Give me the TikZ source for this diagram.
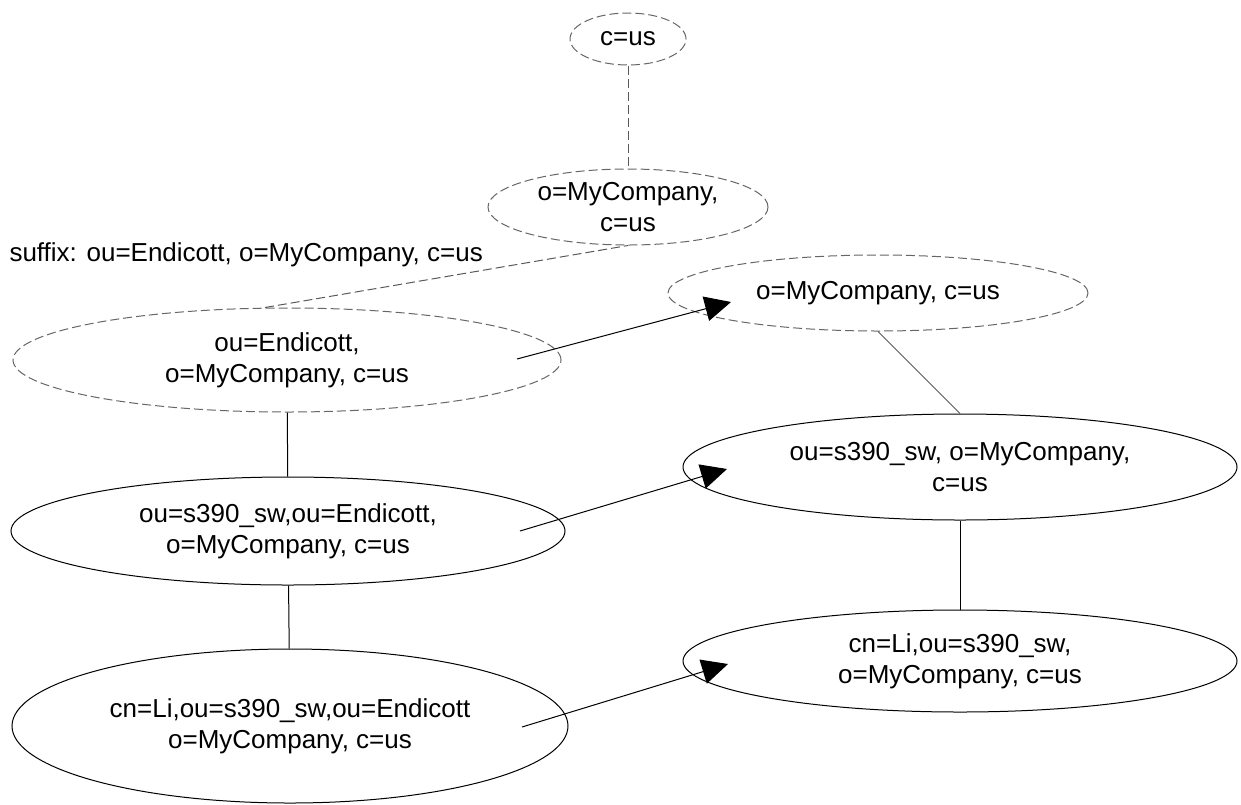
\documentclass[tikz,border=0pt]{standalone}
\usepackage{fontspec}
\setmainfont{Liberation Sans}
\usetikzlibrary{shapes.geometric, arrows.meta, calc}

\begin{document}
\begin{tikzpicture}[x = 1pt, y = -1pt,
    entry/.style = {ellipse, draw, line width = 1pt, inner sep = -8pt, align = center, font = \fontsize{26}{31}\selectfont},
    oldentry/.style = {entry, draw = black!60, dash pattern = on 9pt off 4pt},
    link/.style = {line width = 1pt},
    oldlink/.style = {link, draw = black!65, dash pattern = on 9pt off 4pt},
    move/.style = {link, -{Triangle[length = 26pt, width = 25pt]}}]
    \useasboundingbox (0, 0) rectangle (1241, 804);
    % OLD TREE
    \node[oldentry, minimum width = 116, minimum height = 52] (cus) at (628, 39) {c=us};
    \node[oldentry, minimum width = 280, minimum height = 76] (mid) at (628, 207) {o=MyCompany,\\c=us};
    \node[oldentry, minimum width = 548, minimum height = 104] (endi) at (287, 360) {ou=Endicott,\\o=MyCompany, c=us};
    \node[entry, minimum width = 554, minimum height = 108] (olds) at (288, 531) {ou=s390\_sw,ou=Endicott,\\o=MyCompany, c=us};
    \node[entry, minimum width = 556, minimum height = 154] (oldc) at (290, 726) {cn=Li,ou=s390\_sw,ou=Endicott\\o=MyCompany, c=us};
    \node[anchor = west, font = \fontsize{26}{31}\selectfont] (suffix) at (6, 255) {suffix: ou=Endicott, o=MyCompany, c=us};
    \draw[oldlink] (cus) -- (mid);
    \draw[oldlink] ([xshift = -22pt]endi.north) -- (mid.south);
    \draw[link] (endi) -- (olds);
    \draw[link] (olds) -- (oldc);
    % NEW TREE
    \node[oldentry, minimum width = 420, minimum height = 76] (newo) at (878, 293) {o=MyCompany, c=us};
    \node[entry, minimum width = 554, minimum height = 106] (news) at (960, 467) {ou=s390\_sw, o=MyCompany,\\c=us};
    \node[entry, minimum width = 554, minimum height = 102] (newc) at (960, 661) {cn=Li,ou=s390\_sw,\\o=MyCompany, c=us};
    \draw[link, draw = black!65] (newo.south) -- (news.north);
    \draw[link] (news) -- (newc);
    % MOVES
    \draw[move] ($(endi.center) + (230, -1)$) -- ($(newo.center) + (-147, 9)$);
    \draw[move] ($(olds.center) + (232, 0)$) -- ($(news.center) + (-233, 2)$);
    \draw[move] ($(oldc.center) + (232, 1)$) -- ($(newc.center) + (-232, 3)$);
\end{tikzpicture}
\end{document}
